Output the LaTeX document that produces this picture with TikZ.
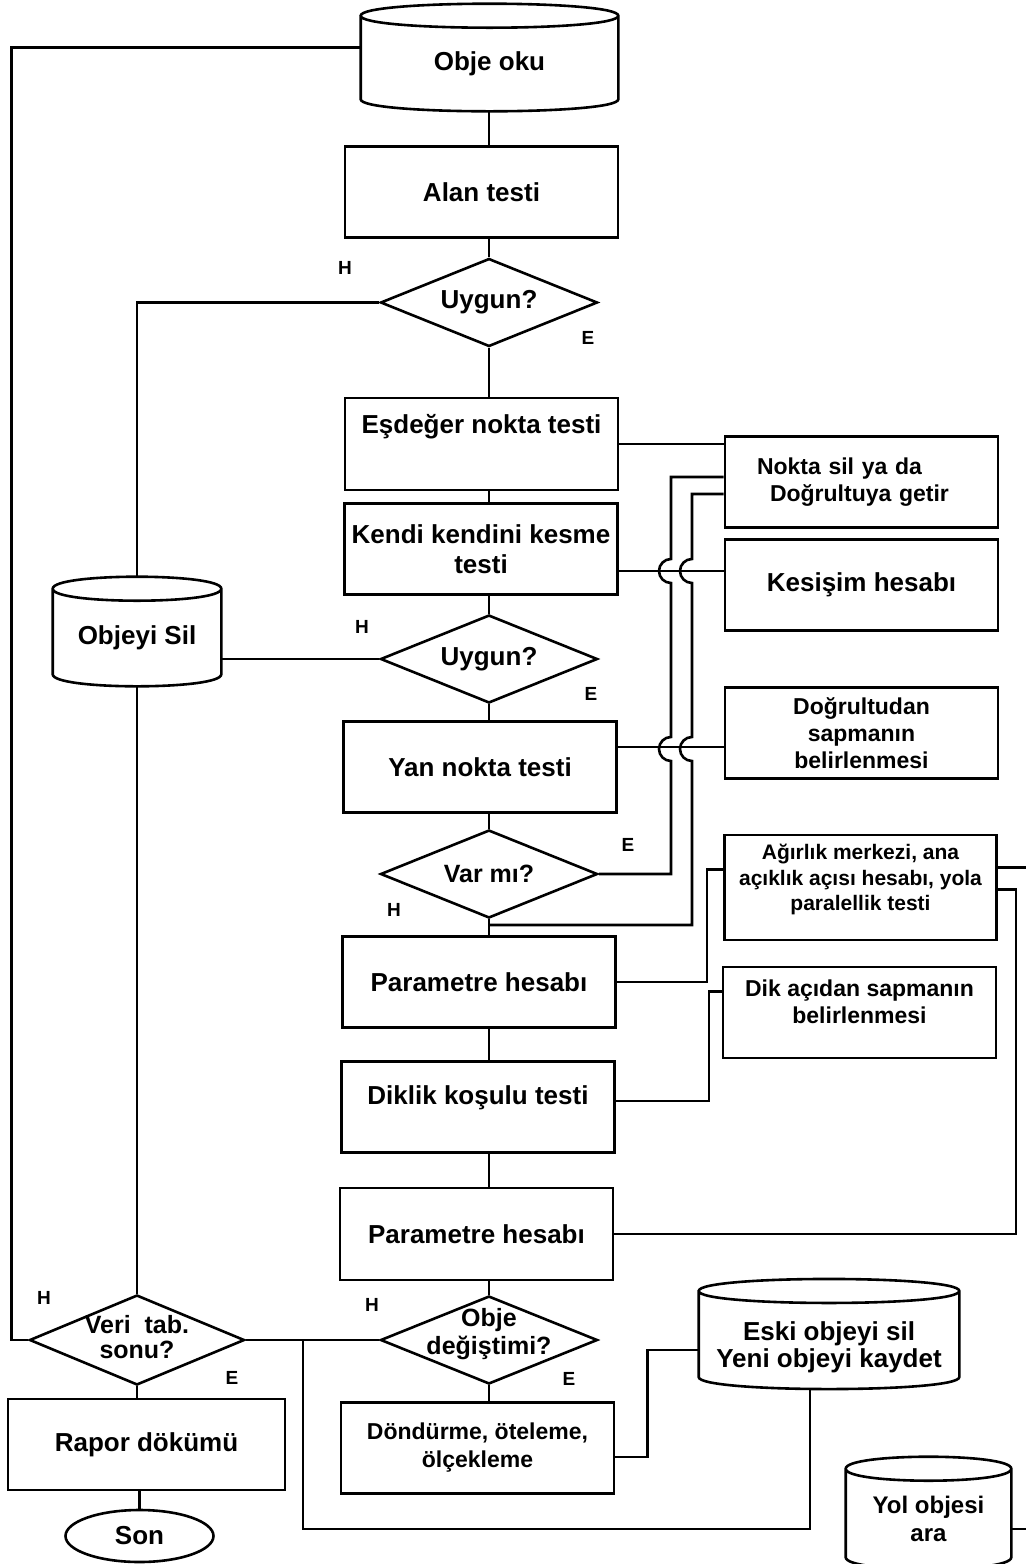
\documentclass[tikz,border=0pt]{standalone}
\usepackage{fontspec}
\setmainfont{Liberation Sans}
\usetikzlibrary{shapes.geometric}

\tikzset{
  base/.style={font=\bfseries\fontsize{13}{15}\selectfont, align=center, inner sep=2pt},
  proc/.style={base, draw, minimum width=136.5pt, minimum height=45.5pt},
  side/.style={proc, font=\bfseries\fontsize{11.5}{13.5}\selectfont},
  cond/.style={base, draw, diamond, inner sep=0pt, aspect=2.4, minimum width=108.5pt, minimum height=44pt},
  term/.style={base, draw, ellipse, minimum width=74pt, minimum height=26pt},
  yn/.style={font=\bfseries\fontsize{9.5}{11}\selectfont, inner sep=0pt},
  % drum: north is the centre of the lid, south the lowest point of the base
  store/.style={base, append after command={\pgfextra{
    \draw[line width=1.3pt]
      (\tikzlastnode.north west) -- ([yshift=6pt]\tikzlastnode.south west)
      .. controls ([yshift=-2pt]\tikzlastnode.south west) and ([yshift=-2pt]\tikzlastnode.south east) .. ([yshift=6pt]\tikzlastnode.south east)
      -- (\tikzlastnode.north east)
      .. controls ([yshift=8pt]\tikzlastnode.north east) and ([yshift=8pt]\tikzlastnode.north west) .. (\tikzlastnode.north west)
      .. controls ([yshift=-8pt]\tikzlastnode.north west) and ([yshift=-8pt]\tikzlastnode.north east) .. (\tikzlastnode.north east);
  }}},
}

\begin{document}
\begin{tikzpicture}[x=0.5pt, y=-0.5pt, line width=1.3pt]
    \useasboundingbox (0,0) rectangle (1025,1564);
    \coordinate (spine) at (489,0);

    % main column
    \node[store, minimum width=127.5pt, minimum height=46.5pt] (oku) at (489.5,63.5) {Obje oku};
    \node[proc] (alan) at (481.5,192) {Alan testi};
    \node[cond] (u1) at (489,302.5) {Uygun?};
    \node[proc, minimum height=46pt, text height=9.5pt, text depth=20pt] (esd) at (481.5,444) {Eşdeğer nokta testi};
    \node[proc] (kendi) at (481,549) {Kendi kendini kesme\\testi};
    \node[cond] (u2) at (489,659) {Uygun?};
    \node[proc] (yan) at (480,767) {Yan nokta testi};
    \node[cond, font=\bfseries\fontsize{12.5}{14}\selectfont] (varmi) at (489,874) {Var mı?};
    \node[proc] (par1) at (479,982) {Parametre hesabı};
    \node[proc, text height=9.5pt, text depth=12pt] (dikl) at (478,1107) {Diklik koşulu testi};
    \node[proc, minimum height=46pt] (par2) at (476.5,1234) {Parametre hesabı};
    \node[cond] (objd) at (489,1340) {};
    \node[base, font=\bfseries\fontsize{12.5}{14}\selectfont] (objdtxt) at (489,1334) {Obje\\değiştimi?};
    \node[proc, font=\bfseries\fontsize{11.5}{14}\selectfont] (dond) at (477.5,1448) {Döndürme, öteleme,\\ölçekleme};

    % left column
    \node[store, minimum width=83pt, minimum height=47.5pt] (sil) at (137,637.5) {Objeyi Sil};
    \node[cond, minimum width=107.5pt, minimum height=45pt] (veri) at (137,1340) {};
    \node[base, font=\bfseries\fontsize{12.5}{12.5}\selectfont] (veritxt) at (137,1337) {Veri\ \ tab.\\sonu?};
    \node[proc, minimum width=138.5pt] (rapor) at (146.5,1444.5) {Rapor dökümü};
    \node[term] (son) at (139.5,1536) {Son};

    % right column
    \node[side, align=left, text width=104.5pt] (nokta) at (861.5,482) {Nokta sil ya da\\\hspace*{6.5pt}Doğrultuya getir};
    \node[proc] (kes) at (861.5,585) {Kesişim hesabı};
    \node[side] (dogr) at (861.5,733) {Doğrultudan\\sapmanın\\belirlenmesi};
    \node[side, minimum width=136pt, minimum height=52.5pt, font=\bfseries\fontsize{10.5}{12.75}\selectfont,
        text height=33pt, text depth=10pt] (agir) at (860.5,887.5) {Ağırlık merkezi, ana\\açıklık açısı hesabı, yola\\paralellik testi};
    \node[side, text height=22pt, text depth=11.5pt] (dik) at (859.5,1012.5) {Dik açıdan sapmanın\\belirlenmesi};
    \node[store, minimum width=129pt, minimum height=47.75pt, font=\bfseries\fontsize{13}{13.5}\selectfont,
        text height=27.5pt, text depth=0pt] (eski) at (829,1340) {Eski objeyi sil\\Yeni objeyi kaydet};
    \node[store, minimum width=81.5pt, minimum height=49pt, font=\bfseries\fontsize{12}{14}\selectfont] (yol) at (928.5,1519) {Yol objesi\\ara};

    % yes / no marks
    \node[yn] (h1) at (345,268) {H};
    \node[yn] (e1) at (588,338) {E};
    \node[yn] (h2) at (362,627) {H};
    \node[yn] (e2) at (591,694) {E};
    \node[yn] (e3) at (628,845) {E};
    \node[yn] (h3) at (394,910) {H};
    \node[yn] (h4) at (44,1298) {H};
    \node[yn] (e4) at (232,1378) {E};
    \node[yn] (h5) at (372,1305) {H};
    \node[yn] (e5) at (569,1379) {E};

    % main flow
    \draw (oku.south -| spine) -- (alan.north -| spine);
    \draw (alan.south -| spine) -- (u1.north);
    \draw (u1.south) -- (esd.north -| spine);
    \draw (esd.south -| spine) -- (kendi.north -| spine);
    \draw (kendi.south -| spine) -- (u2.north);
    \draw (u2.south) -- (yan.north -| spine);
    \draw (yan.south -| spine) -- (varmi.north);
    \draw (varmi.south) -- (par1.north -| spine);
    \draw (par1.south -| spine) -- (dikl.north -| spine);
    \draw (dikl.south -| spine) -- (par2.north -| spine);
    \draw (par2.south -| spine) -- (objd.north);
    \draw (objd.south) -- (dond.north -| spine);

    % left loops
    \draw ([yshift=8pt]oku.west) -- ++(-349,0) |- (veri.west);
    \draw (u1.west) -| ([yshift=6pt]sil.north);
    \draw (u2.west) -- (u2.west -| sil.east);
    \draw (sil.south) -- (veri.north);
    \draw (veri.south) -- (veri.south |- rapor.north);
    \draw (rapor.south -| son.north) -- (son.north);
    \draw (veri.east) -- (objd.west);
    \coordinate (jn) at (303,1340);
    \draw ([xshift=-9.5pt]eski.south) -- ++(0,140) -| (jn);
    \draw ([yshift=-4.5pt]dond.east) -- ++(32,0) |- ([yshift=-5pt]eski.west);

    % side tests
    \draw (esd.east) -- (esd.east -| nokta.west);
    \draw ([yshift=-11pt]kendi.east) -- ([yshift=-11pt]kendi.east -| kes.west);
    \draw ([yshift=10pt]yan.east) -- ([yshift=10pt]yan.east -| dogr.west);
    \coordinate (vjoin) at (489,925);
    \draw ([yshift=2.5pt]nokta.west) -- (671,477) -- (671,559)
        arc[start angle=90, end angle=270, radius=6pt] -- (671,737)
        arc[start angle=90, end angle=270, radius=6pt] |- (varmi.east);
    \draw ([yshift=-6pt]nokta.west) -- (692,494) -- (692,559)
        arc[start angle=90, end angle=270, radius=6pt] -- (692,737)
        arc[start angle=90, end angle=270, radius=6pt] |- (vjoin);
    \draw (par1.east) -- ++(90,0) |- ([yshift=9pt]agir.west);
    \draw ([yshift=3pt]dikl.east) -- ++(93,0) |- ([yshift=10.5pt]dik.west);
    \draw ([yshift=10pt]agir.east) -- ++(40,0);
    \draw ([yshift=-1pt]agir.east) -- ++(18,0) |- (par2.east);
    \draw ([yshift=-5pt]yol.east) -- ++(30,0);
\end{tikzpicture}
\end{document}
